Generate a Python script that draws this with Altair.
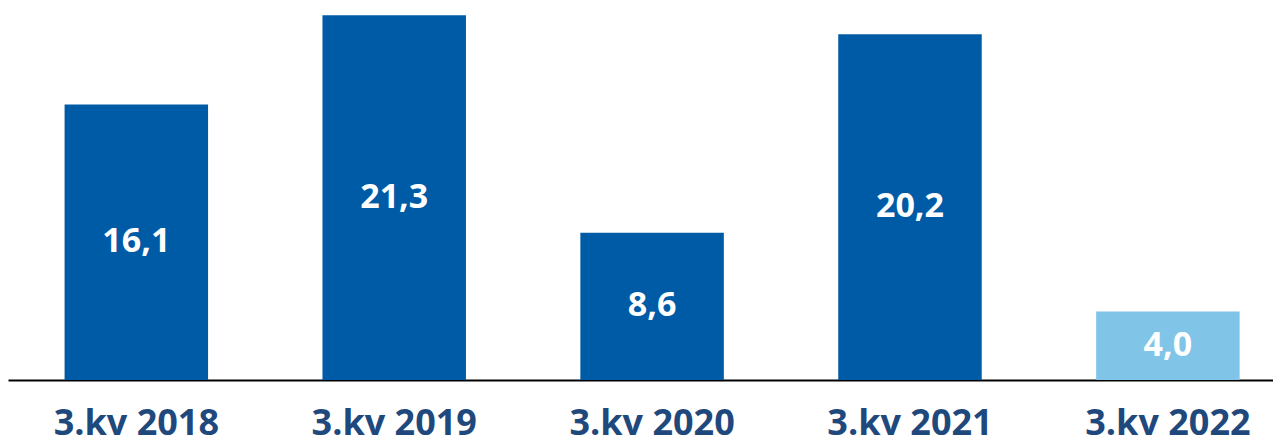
import altair as alt
import pandas as pd

categories = ["3.kv 2018", "3.kv 2019", "3.kv 2020", "3.kv 2021", "3.kv 2022"]
values = [16.1, 21.3, 8.6, 20.2, 4.0]
value_labels = ["16,1", "21,3", "8,6", "20,2", "4,0"]
bar_colors = ["#005BA6", "#005BA6", "#005BA6", "#005BA6", "#80C4E8"]

df = pd.DataFrame({
    "cat": categories,
    "val": values,
    "lab": value_labels,
    "col": bar_colors,
})

x_enc = alt.X(
    "cat:N",
    sort=categories,
    title=None,
    scale=alt.Scale(paddingInner=0.4436, paddingOuter=0.1744, align=0.629),
    axis=alt.Axis(
        labelAngle=0,
        ticks=False,
        grid=False,
        domainColor="#000000",
        domainWidth=2,
        labelFont="Open Sans",
        labelFontSize=36,
        labelFontWeight="bold",
        labelColor="#1F497D",
        labelBaseline="alphabetic",
        labelPadding=54,
    ),
)
y_scale = alt.Scale(domain=[0, 21.73], nice=False, zero=True)

bars = alt.Chart(df).mark_bar().encode(
    x=x_enc,
    y=alt.Y("val:Q", scale=y_scale, axis=None),
    color=alt.Color("col:N", scale=None, legend=None),
)

texts = alt.Chart(df).transform_calculate(
    mid="datum.val / 2"
).mark_text(
    font="Open Sans", fontSize=34, fontWeight="bold", color="white", baseline="middle"
).encode(
    x=alt.X("cat:N", sort=categories),
    y=alt.Y("mid:Q", scale=y_scale),
    text="lab:N",
)

chart = alt.layer(bars, texts).properties(
    width=1265, height=372, padding=0, background="white"
).configure_view(stroke=None, strokeWidth=0)

chart.save("out.html", embed_options={"renderer": "svg", "actions": False})
